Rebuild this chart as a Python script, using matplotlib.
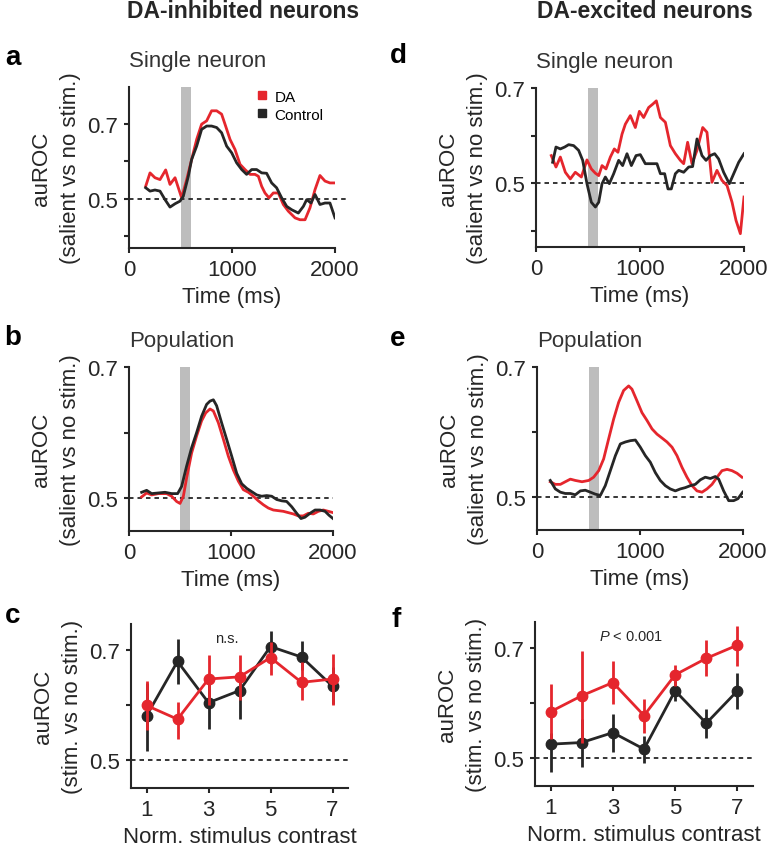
import matplotlib
matplotlib.use('Agg')
import matplotlib.pyplot as plt
from matplotlib.lines import Line2D

plt.rcParams['font.family'] = ['Liberation Sans', 'DejaVu Sans']
plt.rcParams['mathtext.fontset'] = 'custom'
plt.rcParams['mathtext.it'] = 'Liberation Sans:italic'
plt.rcParams['mathtext.rm'] = 'Liberation Sans'

RED = '#e5262d'
BLACK = '#262626'
GRAY = '#bdbdbd'

# ---- panel a: DA-inhibited, single neuron ----
a_t_da = [162, 204, 252, 301, 356, 398, 447, 479, 511, 560, 608, 657, 705, 754, 802, 851, 899,
          932, 981, 1029, 1078, 1126, 1175, 1223, 1256, 1288, 1320, 1359, 1401, 1450, 1498, 1547,
          1612, 1660, 1709, 1757, 1806, 1854, 1903, 1951, 2000]
a_da = [0.533, 0.569, 0.556, 0.551, 0.577, 0.538, 0.556, 0.529, 0.502, 0.551, 0.605, 0.659, 0.700,
        0.709, 0.736, 0.736, 0.727, 0.700, 0.659, 0.632, 0.592, 0.578, 0.565, 0.565, 0.560, 0.533,
        0.515, 0.502, 0.515, 0.515, 0.484, 0.466, 0.448, 0.443, 0.443, 0.475, 0.524, 0.562, 0.547,
        0.542, 0.542]
a_t_ctl = [162, 204, 252, 301, 350, 398, 447, 495, 527, 576, 608, 657, 705, 754, 802, 851, 899,
           948, 997, 1045, 1094, 1142, 1191, 1239, 1288, 1336, 1385, 1433, 1482, 1531, 1579, 1644,
           1693, 1725, 1767, 1806, 1854, 1903, 1951, 2000]
a_ctl = [0.529, 0.520, 0.523, 0.520, 0.497, 0.477, 0.486, 0.493, 0.506, 0.560, 0.605, 0.641, 0.686,
         0.695, 0.695, 0.691, 0.677, 0.641, 0.623, 0.596, 0.578, 0.565, 0.578, 0.578, 0.569, 0.568,
         0.542, 0.529, 0.502, 0.479, 0.470, 0.461, 0.479, 0.497, 0.488, 0.511, 0.484, 0.488, 0.488,
         0.448]

# ---- panel b: DA-inhibited, population ----
b_t_ctl = [124, 173, 222, 288, 353, 418, 477, 516, 565, 614, 663, 712, 761, 794, 827, 859, 908, 957,
           1007, 1056, 1105, 1154, 1203, 1252, 1301, 1350, 1399, 1448, 1497, 1546, 1595, 1644, 1686,
           1725, 1775, 1824, 1873, 1922, 1961, 2000]
b_ctl = [0.509, 0.512, 0.507, 0.508, 0.509, 0.507, 0.507, 0.518, 0.549, 0.577, 0.600, 0.625, 0.643,
         0.648, 0.650, 0.641, 0.615, 0.590, 0.564, 0.538, 0.522, 0.515, 0.510, 0.505, 0.503, 0.504,
         0.503, 0.498, 0.496, 0.495, 0.487, 0.477, 0.469, 0.471, 0.477, 0.482, 0.482, 0.480, 0.474,
         0.469]
b_t_da = [124, 173, 222, 288, 369, 418, 467, 500, 533, 565, 614, 663, 712, 752, 794, 827, 876, 925,
          974, 1023, 1072, 1121, 1170, 1219, 1268, 1317, 1366, 1415, 1464, 1513, 1562, 1611, 1660,
          1709, 1758, 1807, 1856, 1905, 1954, 2000]
b_da = [0.502, 0.508, 0.505, 0.507, 0.507, 0.503, 0.495, 0.492, 0.503, 0.531, 0.569, 0.595, 0.618,
        0.630, 0.636, 0.633, 0.615, 0.590, 0.564, 0.543, 0.526, 0.513, 0.509, 0.503, 0.496, 0.490,
        0.485, 0.482, 0.481, 0.480, 0.478, 0.476, 0.473, 0.473, 0.477, 0.476, 0.480, 0.482, 0.480,
        0.478]

# ---- panel c: DA-inhibited, contrast ----
contrast = [1, 2, 3, 4, 5, 6, 7]
c_ctl = [0.581, 0.680, 0.605, 0.627, 0.707, 0.688, 0.635]
c_ctl_lo = [0.518, 0.639, 0.558, 0.576, 0.675, 0.664, 0.603]
c_ctl_hi = [0.640, 0.721, 0.650, 0.652, 0.736, 0.718, 0.670]
c_da = [0.600, 0.575, 0.648, 0.652, 0.687, 0.642, 0.648]
c_da_lo = [0.555, 0.539, 0.600, 0.609, 0.655, 0.609, 0.600]
c_da_hi = [0.645, 0.607, 0.691, 0.692, 0.715, 0.679, 0.694]

# ---- panel d: DA-excited, single neuron ----
d_t_da = [147, 192, 234, 282, 330, 378, 436, 490, 532, 571, 603, 635, 673, 715, 753, 788, 827, 859,
          907, 955, 994, 1035, 1083, 1122, 1157, 1196, 1244, 1292, 1340, 1388, 1420, 1458, 1500,
          1548, 1603, 1644, 1692, 1740, 1788, 1837, 1885, 1923, 1965, 2000]
d_da = [0.558, 0.534, 0.555, 0.523, 0.509, 0.523, 0.513, 0.549, 0.530, 0.521, 0.516, 0.537, 0.530,
        0.555, 0.572, 0.565, 0.603, 0.624, 0.642, 0.617, 0.651, 0.638, 0.659, 0.666, 0.673, 0.638,
        0.628, 0.579, 0.562, 0.548, 0.541, 0.586, 0.541, 0.569, 0.617, 0.607, 0.502, 0.527, 0.506,
        0.495, 0.460, 0.422, 0.394, 0.471]
d_t_ctl = [160, 192, 234, 276, 314, 362, 410, 449, 490, 532, 571, 603, 635, 667, 705, 747, 795, 833,
           875, 917, 962, 1003, 1051, 1099, 1163, 1196, 1237, 1269, 1301, 1340, 1372, 1420, 1468,
           1506, 1548, 1596, 1635, 1676, 1718, 1756, 1804, 1859, 1901, 1949, 2000]
d_ctl = [0.544, 0.576, 0.572, 0.576, 0.581, 0.579, 0.569, 0.548, 0.499, 0.460, 0.450, 0.460, 0.499,
         0.513, 0.499, 0.520, 0.548, 0.537, 0.562, 0.537, 0.558, 0.560, 0.541, 0.541, 0.541, 0.520,
         0.520, 0.488, 0.488, 0.520, 0.527, 0.523, 0.534, 0.535, 0.593, 0.558, 0.548, 0.558, 0.562,
         0.551, 0.523, 0.499, 0.520, 0.544, 0.562]

# ---- panel e: DA-excited, population ----
e_t_da = [129, 178, 227, 275, 324, 372, 437, 502, 550, 599, 647, 696, 744, 793, 841, 890, 922, 971,
          1019, 1068, 1117, 1165, 1214, 1262, 1311, 1359, 1408, 1456, 1505, 1553, 1602, 1650, 1699,
          1748, 1796, 1845, 1893, 1942, 1990]
e_da = [0.524, 0.520, 0.520, 0.524, 0.528, 0.526, 0.524, 0.526, 0.531, 0.541, 0.559, 0.590, 0.620,
        0.646, 0.664, 0.671, 0.666, 0.648, 0.630, 0.618, 0.605, 0.597, 0.591, 0.585, 0.577, 0.564,
        0.546, 0.531, 0.518, 0.510, 0.508, 0.513, 0.520, 0.531, 0.541, 0.543, 0.541, 0.537, 0.531]
e_t_ctl = [129, 178, 227, 275, 324, 372, 421, 469, 518, 566, 615, 663, 712, 761, 809, 858, 906, 955,
           1003, 1052, 1100, 1149, 1197, 1246, 1294, 1343, 1392, 1440, 1489, 1537, 1586, 1634, 1683,
           1731, 1764, 1812, 1861, 1909, 1951, 1997]
e_ctl = [0.526, 0.513, 0.508, 0.506, 0.506, 0.504, 0.510, 0.511, 0.508, 0.505, 0.503, 0.518, 0.541,
         0.564, 0.582, 0.585, 0.587, 0.588, 0.577, 0.564, 0.554, 0.538, 0.526, 0.518, 0.513, 0.510,
         0.513, 0.515, 0.518, 0.520, 0.527, 0.531, 0.529, 0.532, 0.528, 0.510, 0.495, 0.495, 0.498,
         0.508]

# ---- panel f: DA-excited, contrast ----
f_da = [0.585, 0.614, 0.638, 0.578, 0.652, 0.682, 0.706]
f_da_lo = [0.535, 0.529, 0.599, 0.547, 0.632, 0.650, 0.668]
f_da_hi = [0.635, 0.696, 0.678, 0.608, 0.670, 0.716, 0.741]
f_ctl = [0.526, 0.529, 0.547, 0.517, 0.623, 0.564, 0.623]
f_ctl_lo = [0.475, 0.484, 0.511, 0.492, 0.605, 0.538, 0.590]
f_ctl_hi = [0.547, 0.572, 0.581, 0.541, 0.641, 0.590, 0.656]

stim_window = (500, 600)

W, H = 774, 853
fig = plt.figure(figsize=(W / 100, H / 100), dpi=100)


def add_ax(l, t, r, b):
    return fig.add_axes([l / W, 1 - b / H, (r - l) / W, (b - t) / H])


def style(ax, ylim, yticks, dash_end=1.0):
    for s in ['top', 'right']:
        ax.spines[s].set_visible(False)
    for s in ['left', 'bottom']:
        ax.spines[s].set_linewidth(1.5)
        ax.spines[s].set_color(BLACK)
    ax.tick_params(direction='out', length=3.5, width=1.5, pad=4.5, labelsize=16,
                   colors=BLACK)
    ax.set_ylim(*ylim)
    ax.set_yticks(yticks)
    ax.set_yticklabels(['0.5' if abs(v - 0.5) < 1e-6 else '0.7' if abs(v - 0.7) < 1e-6 else ''
                        for v in yticks])
    ref = ax.axhline(0.5, xmax=dash_end, color=BLACK, lw=1.3, ls=(0, (2.5, 2.2)), zorder=1)
    ref.set_clip_on(False)


def time_panel(ax, t_ctl, ctl, t_da, da, ylim, yticks, title, dash_end=1.0):
    style(ax, ylim, yticks, dash_end)
    ax.axvspan(*stim_window, color=GRAY, lw=0, zorder=0)
    ax.plot(t_ctl, ctl, color=BLACK, lw=2.0, zorder=3)
    ax.plot(t_da, da, color=RED, lw=2.0, zorder=2)
    ax.set_xlim(0, 2000)
    ax.set_xticks([0, 1000, 2000])
    ax.set_xlabel('Time (ms)', fontsize=16, labelpad=4, color=BLACK)
    ax.set_ylabel('auROC\n(salient vs no stim.)', fontsize=16, labelpad=4,
                  linespacing=1.55, color=BLACK)
    ax.set_title(title, loc='left', fontsize=16, pad=15, color='#333333')


def contrast_panel(ax, ctl, ctl_lo, ctl_hi, da, da_lo, da_hi, note):
    style(ax, (0.45, 0.748), [0.5, 0.6, 0.7])
    for y, lo, hi, col, z in [(ctl, ctl_lo, ctl_hi, BLACK, 3), (da, da_lo, da_hi, RED, 4)]:
        err = [[v - l for v, l in zip(y, lo)], [h - v for v, h in zip(y, hi)]]
        ax.errorbar(contrast, y, yerr=err, color=col, lw=2.0, elinewidth=2.0, capsize=0,
                    marker='o', ms=7.5, zorder=z)
    ax.set_xlim(0.5, 7.5)
    ax.set_xticks([1, 3, 5, 7])
    ax.set_xlabel('Norm. stimulus contrast', fontsize=16, labelpad=4, color=BLACK)
    ax.set_ylabel('auROC\n(stim. vs no stim.)', fontsize=16, labelpad=4,
                  linespacing=1.55, color=BLACK)
    ax.text(3.6, 0.722, note, ha='center', va='center', fontsize=10.5, color=BLACK)


ax_a = add_ax(129, 88, 335, 249)
time_panel(ax_a, a_t_ctl, a_ctl, a_t_da, a_da, (0.367, 0.80), [0.4, 0.5, 0.6, 0.7],
           'Single neuron', dash_end=1.065)
handles = [Line2D([], [], color=RED, marker='s', ls='none', ms=6),
           Line2D([], [], color=BLACK, marker='s', ls='none', ms=6)]
ax_a.legend(handles, ['DA', 'Control'], loc='upper left', bbox_to_anchor=(0.58, 1.03),
            frameon=False, fontsize=11, handlelength=0.8, handletextpad=0.4,
            labelspacing=0.25, borderpad=0)

ax_b = add_ax(129, 368, 333, 532)
time_panel(ax_b, b_t_ctl, b_ctl, b_t_da, b_da, (0.45, 0.70), [0.5, 0.6, 0.7], 'Population')

ax_c = add_ax(131, 625, 348, 789)
contrast_panel(ax_c, c_ctl, c_ctl_lo, c_ctl_hi, c_da, c_da_lo, c_da_hi, 'n.s.')

ax_d = add_ax(536, 89, 744, 248)
time_panel(ax_d, d_t_ctl, d_ctl, d_t_da, d_da, (0.366, 0.70), [0.4, 0.5, 0.6, 0.7],
           'Single neuron')

ax_e = add_ax(537, 368, 743, 531)
time_panel(ax_e, e_t_ctl, e_ctl, e_t_da, e_da, (0.45, 0.70), [0.5, 0.6, 0.7], 'Population')

ax_f = add_ax(535, 623, 753, 787)
contrast_panel(ax_f, f_ctl, f_ctl_lo, f_ctl_hi, f_da, f_da_lo, f_da_hi, r'$P$ < 0.001')

# column headers and panel letters
fig.text(243 / W, 1 - 18 / H, 'DA-inhibited neurons', ha='center', va='baseline',
         fontsize=16.5, weight='bold', color=BLACK)
fig.text(645 / W, 1 - 18 / H, 'DA-excited neurons', ha='center', va='baseline',
         fontsize=16.5, weight='bold', color=BLACK)
for letter, x, y in [('a', 5, 65), ('b', 4, 345), ('c', 5, 623),
                     ('d', 390, 63), ('e', 390, 346), ('f', 391, 627)]:
    fig.text(x / W, 1 - y / H, letter, ha='left', va='baseline', fontsize=20,
             weight='bold', color='black')

fig.savefig('out.png', dpi=100)
